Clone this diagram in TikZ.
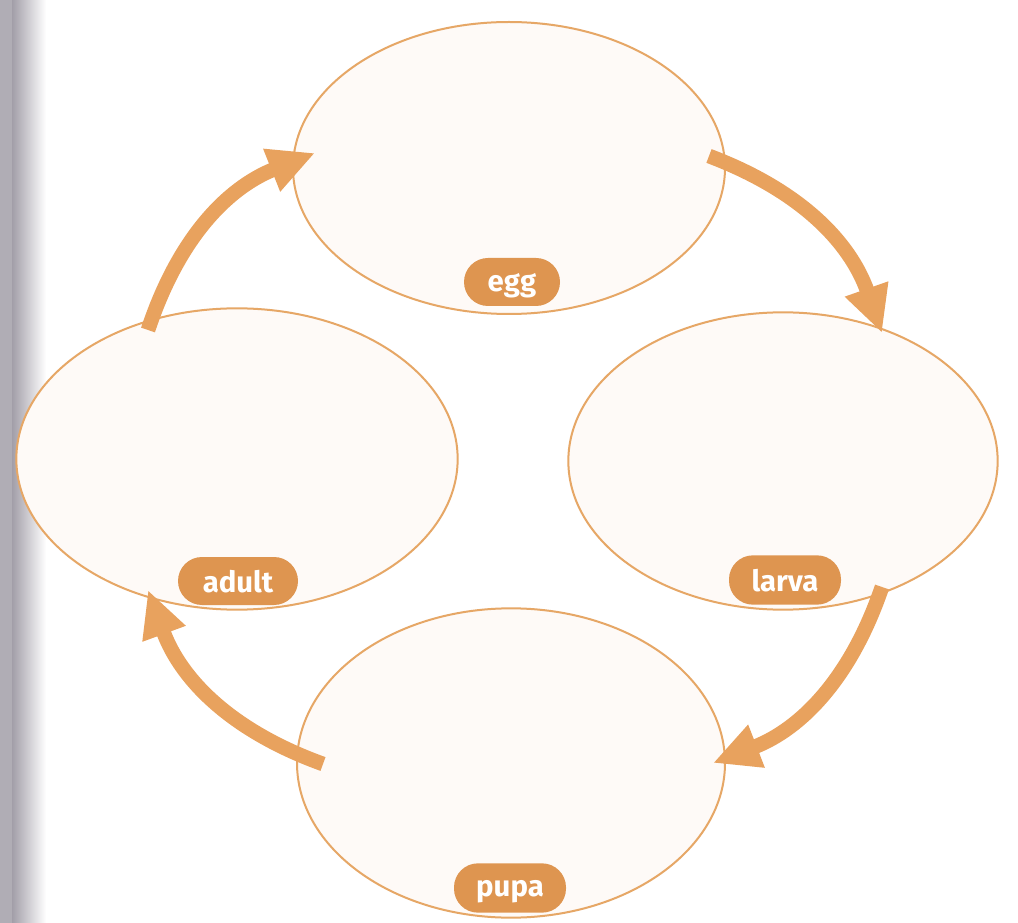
\documentclass[tikz,border=0pt]{standalone}
\usepackage{fontspec}
\setmainfont{Fira Sans}
\usetikzlibrary{shapes.geometric,arrows.meta}
\definecolor{lineor}{HTML}{E6A766}
\definecolor{pillor}{HTML}{DE9550}
\definecolor{arrowor}{HTML}{E8A25E}
\definecolor{stagefill}{HTML}{FEFAF7}
\definecolor{gutter}{HTML}{A29EA8}
\tikzset{
  stage/.style={draw=lineor, line width=1.5pt, fill=stagefill, ellipse, inner sep=0pt},
  pill/.style={fill=pillor, rounded corners=18pt, text=white, inner sep=0pt,
    font=\fontsize{22}{26}\selectfont\bfseries, text depth=0pt},
  cyclearrow/.style={draw=arrowor, line width=11pt, line cap=butt,
    -{Triangle[width=32pt,length=35pt]}, bend left=25}
}
\begin{document}
\begin{tikzpicture}[x=0.75pt,y=-0.75pt]
\useasboundingbox (0,0) rectangle (1018,923);
\fill[white] (0,0) rectangle (1018,923);
\fill[gutter!85] (0,0) rectangle (12,923);
\shade[left color=gutter, right color=white] (12,0) rectangle (46,923);
% stages
\node[stage, minimum width=324pt, minimum height=219pt] (egg) at (509,168) {};
\node[stage, minimum width=322pt, minimum height=223pt] (larva) at (783,461) {};
\node[stage, minimum width=331pt, minimum height=226pt] (adult) at (237,459) {};
\node[stage, minimum width=321pt, minimum height=232pt] (pupa) at (511,763) {};
% labels
\node[pill, minimum width=72pt, minimum height=36pt] (egglabel) at (512,282) {egg};
\node[pill, minimum width=90pt, minimum height=36pt] (adultlabel) at (238,581) {adult};
\node[pill, minimum width=84pt, minimum height=37pt] (larvalabel) at (785,580) {larva};
\node[pill, minimum width=84pt, minimum height=37pt] (pupalabel) at (510,888) {pupa};
% arrow end points
\coordinate (a1s) at (148,330); \coordinate (a1e) at (315,153);
\coordinate (a2s) at (709,156); \coordinate (a2e) at (882,333);
\coordinate (a3s) at (882,587); \coordinate (a3e) at (713,763);
\coordinate (a4s) at (323,764); \coordinate (a4e) at (148,590);
\draw[cyclearrow] (a1s) to (a1e);
\draw[cyclearrow] (a2s) to (a2e);
\draw[cyclearrow] (a3s) to (a3e);
\draw[cyclearrow] (a4s) to (a4e);
\end{tikzpicture}
\end{document}
